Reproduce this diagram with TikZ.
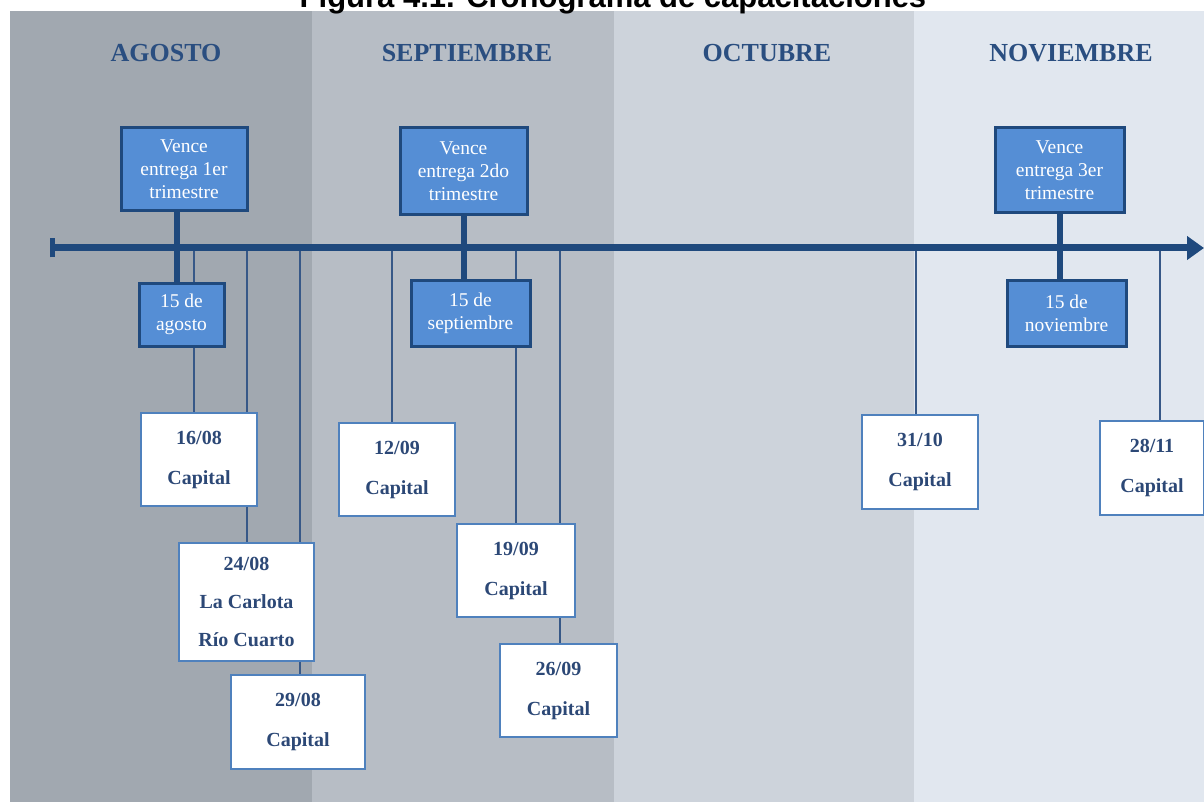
\documentclass[tikz,border=0pt]{standalone}
\usepackage{fontspec}
\setmainfont{Liberation Serif}
\newfontfamily\titlefont{Liberation Sans}
\usetikzlibrary{arrows.meta}

\definecolor{navy}{RGB}{31,73,125}
\definecolor{boxblue}{RGB}{85,142,213}
\definecolor{edgeblue}{RGB}{79,129,189}
\definecolor{datetext}{RGB}{44,72,118}
\definecolor{monthblue}{RGB}{42,78,128}
\definecolor{threadblue}{RGB}{55,88,135}
\definecolor{agostobg}{RGB}{161,168,176}
\definecolor{septbg}{RGB}{183,189,197}
\definecolor{octbg}{RGB}{205,211,219}
\definecolor{novbg}{RGB}{225,231,239}

\pgfdeclarelayer{bg}
\pgfdeclarelayer{lines}
\pgfsetlayers{bg,lines,main}

\begin{document}
\begin{tikzpicture}[x=1pt, y=-1pt,
	vence/.style={draw=navy, line width=3, fill=boxblue, text=white, align=center, inner sep=0,
		font=\fontsize{19.5}{23}\selectfont},
	fecha/.style={draw=edgeblue, line width=2, fill=white, text=datetext, align=center, inner sep=0,
		font=\bfseries\fontsize{20}{40}\selectfont},
	mes/.style={text=monthblue, font=\bfseries\fontsize{26}{30}\selectfont},
	hilo/.style={threadblue, line width=1.6},
	poste/.style={navy, line width=6}]
	\useasboundingbox (0, 0) rectangle (1204, 802);
	%\draw[style=help lines] (0, 0) grid[step=100] (1204, 802);
	%Title (cut at the top)
	\node [font=\titlefont\bfseries\fontsize{31}{34}\selectfont, anchor=base] (titulo) at (613, 8) {Figura 4.1. Cronograma de capacitaciones};
	%Months
	\begin{pgfonlayer}{bg}
		\fill [white] (0, 0) rectangle (1204, 802);
		\fill [agostobg] (10, 11) rectangle (312, 802);
		\fill [septbg] (312, 11) rectangle (614, 802);
		\fill [octbg] (614, 11) rectangle (914, 802);
		\fill [novbg] (914, 11) rectangle (1204, 802);
	\end{pgfonlayer}
	\node [mes] (agosto) at (166, 53) {AGOSTO};
	\node [mes] (septiembre) at (467, 53) {SEPTIEMBRE};
	\node [mes] (octubre) at (767, 53) {OCTUBRE};
	\node [mes] (noviembre) at (1071, 53) {NOVIEMBRE};
	%Timeline
	\coordinate (inicio) at (50, 248);
	\coordinate (fin) at (1204, 248);
	%Vence boxes
	\node [vence, minimum width=126, minimum height=83] (v1) at (184, 169.5) {Vence\\entrega 1er\\trimestre};
	\node [vence, minimum width=127, minimum height=87] (v2) at (463.5, 171.5) {Vence\\entrega 2do\\trimestre};
	\node [vence, minimum width=129, minimum height=85] (v3) at (1059.5, 170.5) {Vence\\entrega 3er\\trimestre};
	\node [vence, minimum width=85, minimum height=63] (d1) at (181.5, 314.5) {15 de\\agosto};
	\node [vence, minimum width=119, minimum height=66] (d2) at (470.5, 313) {15 de\\septiembre};
	\node [vence, minimum width=119, minimum height=66] (d3) at (1066.5, 313) {15 de\\noviembre};
	%Capacitaciones
	\node [fecha, minimum width=116, minimum height=93] (f1608) at (199, 459.5) {16/08\\Capital};
	\node [fecha, minimum width=135, minimum height=118] (f2408) at (246.5, 602) {24/08\\[-2pt]La Carlota\\[-2pt]Río Cuarto};
	\node [fecha, minimum width=134, minimum height=94] (f2908) at (298, 722) {29/08\\Capital};
	\node [fecha, minimum width=116, minimum height=93] (f1209) at (397, 469.5) {12/09\\Capital};
	\node [fecha, minimum width=118, minimum height=93] (f1909) at (516, 570.5) {19/09\\Capital};
	\node [fecha, minimum width=117, minimum height=93] (f2609) at (558.5, 690.5) {26/09\\Capital};
	\node [fecha, minimum width=116, minimum height=94] (f3110) at (920, 462) {31/10\\Capital};
	\node [fecha, minimum width=104, minimum height=94] (f2811) at (1152, 468) {28/11\\Capital};
	%Points on the timeline
	\coordinate (e1) at (177, 248);
	\coordinate (e2) at (464, 248);
	\coordinate (e3) at (1060, 248);
	\coordinate (t1608) at (194, 248);
	\coordinate (t2408) at (247, 248);
	\coordinate (t2908) at (300, 248);
	\coordinate (t1209) at (392, 248);
	\coordinate (t1909) at (516, 248);
	\coordinate (t2609) at (560, 248);
	\coordinate (t3110) at (916, 248);
	\coordinate (t2811) at (1160, 248);
	\begin{pgfonlayer}{lines}
		%Thin lines down to the dates
		\foreach \f in {1608, 2408, 2908, 1209, 1909, 2609, 3110, 2811}
			\draw [hilo] (t\f) -- (t\f |- f\f.north);
		%Axis
		\draw [poste, line width=7, {Bar[width=19, line width=5]}-{Triangle[length=17, width=23]}] (inicio) -- (fin);
		%Posts between the blue boxes
		\draw [poste] (v1.south -| e1) -- (d1.north -| e1);
		\draw [poste] (v2.south -| e2) -- (d2.north -| e2);
		\draw [poste] (v3.south -| e3) -- (d3.north -| e3);
	\end{pgfonlayer}
\end{tikzpicture}
\end{document}
